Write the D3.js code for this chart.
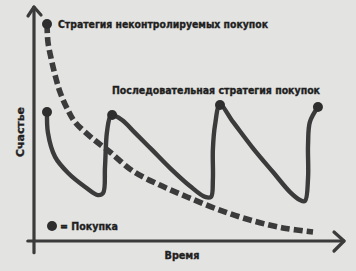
<!DOCTYPE html>
<html>
<head>
<meta charset="utf-8">
<script src="https://cdn.jsdelivr.net/npm/d3@7/dist/d3.min.js"></script>
<style>
  html, body { margin: 0; padding: 0; background: #e3e3e1; }
  svg { display: block; }
  text { font-family: "Liberation Sans Narrow", "DejaVu Sans Condensed", "Roboto", sans-serif; font-weight: bold; fill: #1f1f1f; stroke: #1f1f1f; stroke-width: 0.35; }
</style>
</head>
<body>
<svg id="chart"></svg>
<script>
// time / happiness, arbitrary units 0..100
const impulseTime  = [4.2, 4.5, 5.5, 6.8, 8.4, 10.6, 13.2, 18.7, 24.5, 31.9, 40.6, 49.4, 59.0, 69.7, 80.3, 90.0];
const impulseHappy = [93.1, 85.4, 78.5, 71.2, 63.9, 57.1, 51.1, 44.2, 38.2, 30.0, 24.0, 18.9, 13.7, 9.0, 5.6, 3.9];

const steadyTime  = [4.2, 4.5, 6.8, 11.0, 16.5, 20.6, 22.3, 22.9, 23.5, 24.5, 25.2,
                     28.4, 32.6, 38.1, 43.9, 50.3, 55.2, 57.1, 57.7, 57.7, 58.4, 60.0,
                     64.2, 70.6, 77.1, 82.6, 85.8, 87.4, 88.4, 88.4, 89.0, 91.6];
const steadyHappy = [55.4, 46.4, 36.1, 29.2, 23.2, 19.7, 20.6, 31.8, 46.4, 53.2, 54.1,
                     51.9, 46.4, 39.1, 31.3, 23.6, 18.9, 18.9, 26.2, 39.1, 49.8, 58.4,
                     51.1, 39.9, 29.6, 21.0, 17.6, 17.2, 27.0, 41.2, 51.1, 57.5];

// purchases = dots (index into steady series) + start of impulse curve
const steadyPurchases = [0, 10, 21, 31];

const labels = {
  impulse: "Стратегия неконтролируемых покупок",
  steady: "Последовательная стратегия покупок",
  yAxis: "Счастье",
  xAxis: "Время",
  legend: "= Покупка"
};

const width = 356;
const height = 271;
const ink = "#3b3b3b";

const svg = d3.select("#chart").attr("width", width).attr("height", height);

const x = d3.scaleLinear().domain([0, 100]).range([34, 344]);
const y = d3.scaleLinear().domain([0, 100]).range([241, 8]);

// axes with open arrowheads
const axes = svg.append("g").attr("stroke", ink).attr("fill", "none")
  .attr("stroke-width", 3.2).attr("stroke-linecap", "round").attr("stroke-linejoin", "round");

axes.append("line")
  .attr("x1", x(0)).attr("y1", y(-5)).attr("x2", x(0)).attr("y2", y(100) - 1);
axes.append("path")
  .attr("d", `M${x(0) - 6},${y(100) + 8} L${x(0)},${y(100) - 1} L${x(0) + 7},${y(100) + 7}`);

axes.append("line")
  .attr("x1", x(-2)).attr("y1", y(0)).attr("x2", x(100)).attr("y2", y(0));
axes.append("path")
  .attr("d", `M${x(100) - 10},${y(0) - 9} L${x(100)},${y(0)} L${x(100) - 10},${y(0) + 10}`);

const impulse = impulseTime.map((t, i) => [t, impulseHappy[i]]);
const steady = steadyTime.map((t, i) => [t, steadyHappy[i]]);

const line = d3.line()
  .x((d) => x(d[0]))
  .y((d) => y(d[1]))
  .curve(d3.curveCatmullRom.alpha(0.5));

// impulse buying curve (dashed)
svg.append("path")
  .datum(impulse)
  .attr("d", line)
  .attr("fill", "none")
  .attr("stroke", ink)
  .attr("stroke-width", 5.6)
  .attr("stroke-dasharray", "9,4");

svg.append("path")
  .datum(steady)
  .attr("d", line)
  .attr("fill", "none")
  .attr("stroke", ink)
  .attr("stroke-width", 4.4)
  .attr("stroke-linejoin", "round");

// purchase dots
const dots = steadyPurchases.map((i) => steady[i]).concat([impulse[0]]);
svg.append("g")
  .selectAll("circle")
  .data(dots)
  .join("circle")
  .attr("cx", (d) => x(d[0]))
  .attr("cy", (d) => y(d[1]))
  .attr("r", 5)
  .attr("fill", "#2e2e2e");

// labels
svg.append("text")
  .attr("x", 58).attr("y", 28)
  .attr("font-size", 10.8)
  .attr("textLength", 210).attr("lengthAdjust", "spacingAndGlyphs")
  .text(labels.impulse);

svg.append("text")
  .attr("x", 112).attr("y", 94)
  .attr("font-size", 10.8)
  .attr("textLength", 208).attr("lengthAdjust", "spacingAndGlyphs")
  .text(labels.steady);

svg.append("text")
  .attr("transform", `translate(24,132) rotate(-90)`)
  .attr("text-anchor", "middle")
  .attr("font-size", 10.8)
  .attr("textLength", 50).attr("lengthAdjust", "spacingAndGlyphs")
  .text(labels.yAxis);

svg.append("text")
  .attr("x", 182).attr("y", 259)
  .attr("text-anchor", "middle")
  .attr("font-size", 10.8)
  .attr("textLength", 35).attr("lengthAdjust", "spacingAndGlyphs")
  .text(labels.xAxis);

// legend
svg.append("circle")
  .attr("cx", 52).attr("cy", 226).attr("r", 5).attr("fill", "#2e2e2e");
svg.append("text")
  .attr("x", 60).attr("y", 230)
  .attr("font-size", 10.8)
  .attr("textLength", 58).attr("lengthAdjust", "spacingAndGlyphs")
  .text(labels.legend);
</script>
</body>
</html>
